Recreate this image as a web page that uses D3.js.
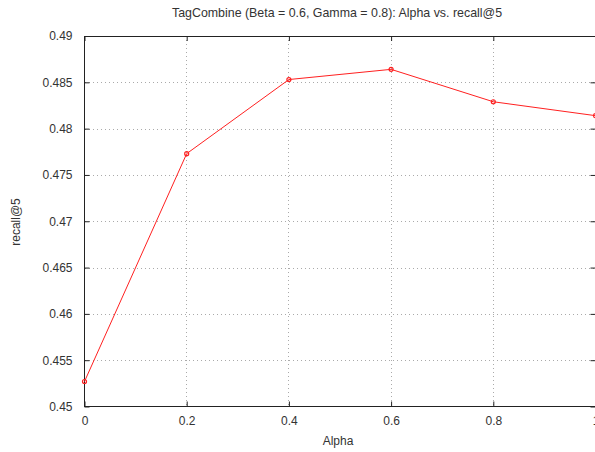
<!DOCTYPE html>
<html><head><meta charset="utf-8">
<script src="https://cdn.jsdelivr.net/npm/d3@7"></script>
<style>body{margin:0;background:#fff}svg{display:block}text{font-family:"Liberation Sans",Arial,sans-serif;fill:#333}</style>
</head><body>
<svg id="c" width="595" height="452"></svg>
<script>
const alphas = [0, 0.2, 0.4, 0.6, 0.8, 1.0];
const recall = [0.4527, 0.4773, 0.4853, 0.4864, 0.4829, 0.4814];
const xTicks = [0, 0.2, 0.4, 0.6, 0.8, 1];
const yTicks = [0.45, 0.455, 0.46, 0.465, 0.47, 0.475, 0.48, 0.485, 0.49];
const title = "TagCombine (Beta = 0.6, Gamma = 0.8): Alpha vs. recall@5";

const svg = d3.select("#c");
const L = 84.5, R = 595.5, T = 36, B = 406.5;
const x = d3.scaleLinear().domain([0, 1]).range([L, R]);
const y = d3.scaleLinear().domain([0.45, 0.49]).range([B, T]);

// grid
svg.append("g").selectAll("line.v").data(xTicks.slice(1, -1)).join("line")
  .attr("x1", d => x(d)).attr("x2", d => x(d)).attr("y1", T).attr("y2", B)
  .attr("stroke", "#aaa").attr("stroke-dasharray", "1,3").attr("shape-rendering", "crispEdges");
svg.append("g").selectAll("line.h").data(yTicks.slice(1, -1)).join("line")
  .attr("x1", L).attr("x2", R).attr("y1", d => Math.round(y(d)) + 0.5).attr("y2", d => Math.round(y(d)) + 0.5)
  .attr("stroke", "#aaa").attr("stroke-dasharray", "1,3").attr("shape-rendering", "crispEdges");

// frame
svg.append("rect").attr("x", L).attr("y", T).attr("width", R - L).attr("height", B - T)
  .attr("fill", "none").attr("stroke", "#222").attr("stroke-width", 1).attr("shape-rendering", "crispEdges");

// axes
const yAxis = d3.axisLeft(y).tickValues(yTicks).tickFormat(d => +d.toFixed(3)).tickSizeInner(-5).tickSizeOuter(0).tickPadding(12);
const gy = svg.append("g").attr("transform", `translate(${L},0)`).call(yAxis);
gy.select(".domain").remove();
gy.selectAll("line").attr("stroke", "#222");
gy.selectAll("text").attr("font-size", 12).style("fill", "#333");

const yAxisR = d3.axisRight(y).tickValues(yTicks).tickSizeInner(-5).tickSizeOuter(0).tickFormat("");
const gyr = svg.append("g").attr("transform", `translate(${R},0)`).call(yAxisR);
gyr.select(".domain").remove();
gyr.selectAll("line").attr("stroke", "#222");

const xAxis = d3.axisBottom(x).tickValues(xTicks).tickFormat(d => +d.toFixed(1)).tickSizeInner(-5).tickSizeOuter(0).tickPadding(10);
const gx = svg.append("g").attr("transform", `translate(0,${B})`).call(xAxis);
gx.select(".domain").remove();
gx.selectAll("line").attr("stroke", "#222");
gx.selectAll("text").attr("font-size", 12).style("fill", "#333");

const xAxisT = d3.axisTop(x).tickValues(xTicks).tickSizeInner(-5).tickSizeOuter(0).tickFormat("");
const gxt = svg.append("g").attr("transform", `translate(0,${T})`).call(xAxisT);
gxt.select(".domain").remove();
gxt.selectAll("line").attr("stroke", "#222");

// line
const pts = alphas.map((a, i) => [a, recall[i]]);
svg.append("path").datum(pts)
  .attr("d", d3.line().x(d => x(d[0])).y(d => y(d[1])))
  .attr("fill", "none").attr("stroke", "#ff2020").attr("stroke-width", 1);
svg.append("g").selectAll("circle").data(pts).join("circle")
  .attr("cx", d => x(d[0])).attr("cy", d => y(d[1])).attr("r", 2)
  .attr("fill", "none").attr("stroke", "#ff2020").attr("stroke-width", 1.2);

// labels
svg.append("text").attr("x", 337).attr("y", 17).attr("text-anchor", "middle").attr("font-size", 12.4).text(title);
svg.append("text").attr("x", 338).attr("y", 445).attr("text-anchor", "middle").attr("font-size", 12).text("Alpha");
svg.append("text").attr("transform", "translate(20,222) rotate(-90)").attr("text-anchor", "middle").attr("font-size", 12).text("recall@5");
</script>
</body></html>
